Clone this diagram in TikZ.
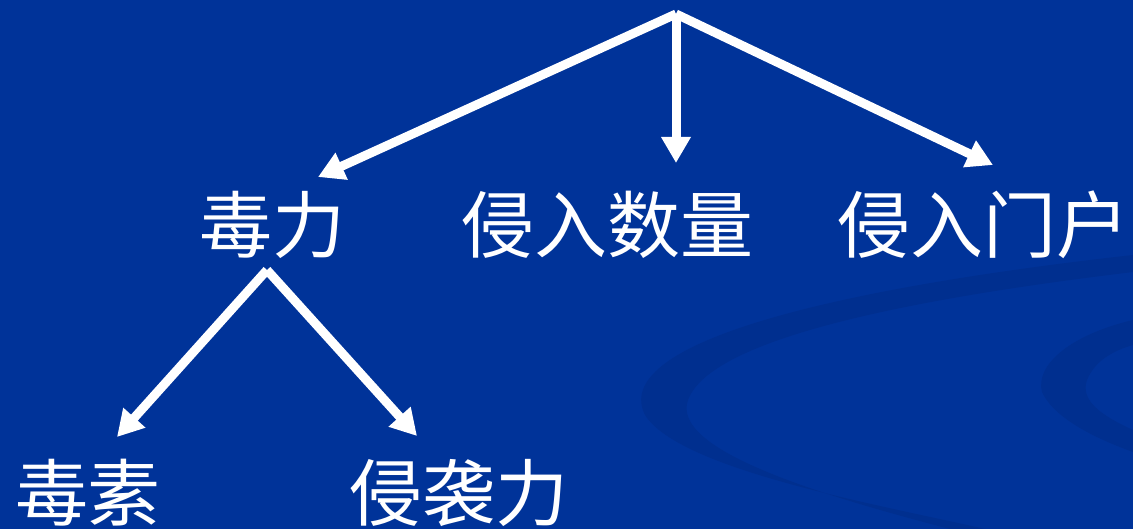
\documentclass[tikz,border=0pt]{standalone}
\usepackage{fontspec}
\newfontfamily\cjk{Noto Sans CJK SC}
\usetikzlibrary{arrows.meta}
\definecolor{bgblue}{RGB}{0,51,153}
\definecolor{swirl}{RGB}{0,47,143}
\tikzset{
  lbl/.style={text=white, font=\cjk\fontsize{73}{73}\selectfont, inner sep=0pt},
  arr/.style={draw=white, line width=9pt, -{Triangle[width=28pt,length=26pt]}}
}
\begin{document}
\begin{tikzpicture}[x=1pt,y=-1pt]
\fill[bgblue] (0,0) rectangle (1133,529);
\useasboundingbox (0,0) rectangle (1133,529);
% faint background swirls
\fill[swirl] (1133,255) .. controls (820,290) and (610,345) .. (645,415)
  .. controls (680,470) and (880,505) .. (985,529) -- (950,529)
  .. controls (820,495) and (670,450) .. (688,400)
  .. controls (710,340) and (900,300) .. (1133,272) -- cycle;
\fill[swirl] (1133,320) .. controls (1070,335) and (1035,365) .. (1042,392)
  .. controls (1055,420) and (1100,440) .. (1133,452) -- (1133,430)
  .. controls (1100,415) and (1080,400) .. (1087,380)
  .. controls (1095,360) and (1115,350) .. (1133,345) -- cycle;
% nodes
\coordinate (top) at (676,14);
\node[lbl] (dl) at (272,225) {毒力};
\node[lbl] (sl) at (607,225) {侵入数量};
\node[lbl] (mh) at (983,225) {侵入门户};
\node[lbl] (ds) at (88,493) {毒素};
\node[lbl] (qx) at (459,493) {侵袭力};
\coordinate (apex) at (267,270);
% connectors
\draw[arr] (top) -- ([shift={(46,-48)}]dl.center);
\draw[arr] (top) -- ([shift={(69,-62)}]sl.center);
\draw[arr] (top) -- ([shift={(10,-60)}]mh.center);
\draw[arr] (apex) -- ([shift={(29,-56)}]ds.center);
\draw[arr] (apex) -- ([shift={(-42,-57)}]qx.center);
\end{tikzpicture}
\end{document}
